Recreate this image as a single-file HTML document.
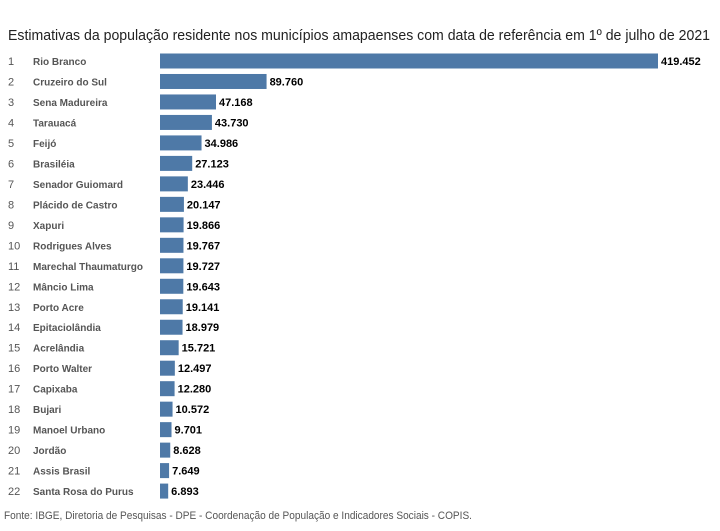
<!DOCTYPE html>
<html><head><meta charset="utf-8"><style>
body{margin:0;background:#fff;width:720px;height:526px;overflow:hidden;font-family:"Liberation Sans",sans-serif}
</style></head><body>
<svg width="720" height="526">
<text x="8" y="40" font-size="15" fill="#222" textLength="702" lengthAdjust="spacingAndGlyphs">Estimativas da população residente nos municípios amapaenses com data de referência em 1º de julho de 2021</text>
<g id="rows"></g>
<text x="4" y="519" font-size="11" fill="#555" textLength="468" lengthAdjust="spacingAndGlyphs">Fonte: IBGE, Diretoria de Pesquisas - DPE - Coordenação de População e Indicadores Sociais - COPIS.</text>
</svg>
<script>
const names=["Rio Branco","Cruzeiro do Sul","Sena Madureira","Tarauacá","Feijó","Brasiléia","Senador Guiomard","Plácido de Castro","Xapuri","Rodrigues Alves","Marechal Thaumaturgo","Mâncio Lima","Porto Acre","Epitaciolândia","Acrelândia","Porto Walter","Capixaba","Bujari","Manoel Urbano","Jordão","Assis Brasil","Santa Rosa do Purus"];
const values=[419452,89760,47168,43730,34986,27123,23446,20147,19866,19767,19727,19643,19141,18979,15721,12497,12280,10572,9701,8628,7649,6893];
const NS="http://www.w3.org/2000/svg";
const g=document.getElementById('rows');
const x0=160,xw=498,maxV=419452;
const xs=v=>v/maxV*xw;
const yc=i=>61+i*20.48;
function mk(tag,attrs,txt){const e=document.createElementNS(NS,tag);for(const k in attrs)e.setAttribute(k,attrs[k]);if(txt!=null)e.textContent=txt;g.appendChild(e);return e;}
const fmt=v=>String(v).replace(/\B(?=(\d{3})+(?!\d))/g,'.');
names.forEach((n,i)=>{
 const y=yc(i);
 let e=mk('text',{x:8,y:y+4,'font-size':11,fill:'#555'},String(i+1));
 
 
 e=mk('text',{x:33,y:y+4,'font-size':10,fill:'#555','font-weight':'bold'},n);
 
 
 e=mk('rect',{x:x0,y:y-7.5,width:xs(values[i]),height:15,fill:'#4e79a7'});
 
 
 e=mk('text',{x:x0+xs(values[i])+3,y:y+4,'font-size':11,fill:'#000','font-weight':'bold'},fmt(values[i]));
 
 
});
</script>
</body></html>
